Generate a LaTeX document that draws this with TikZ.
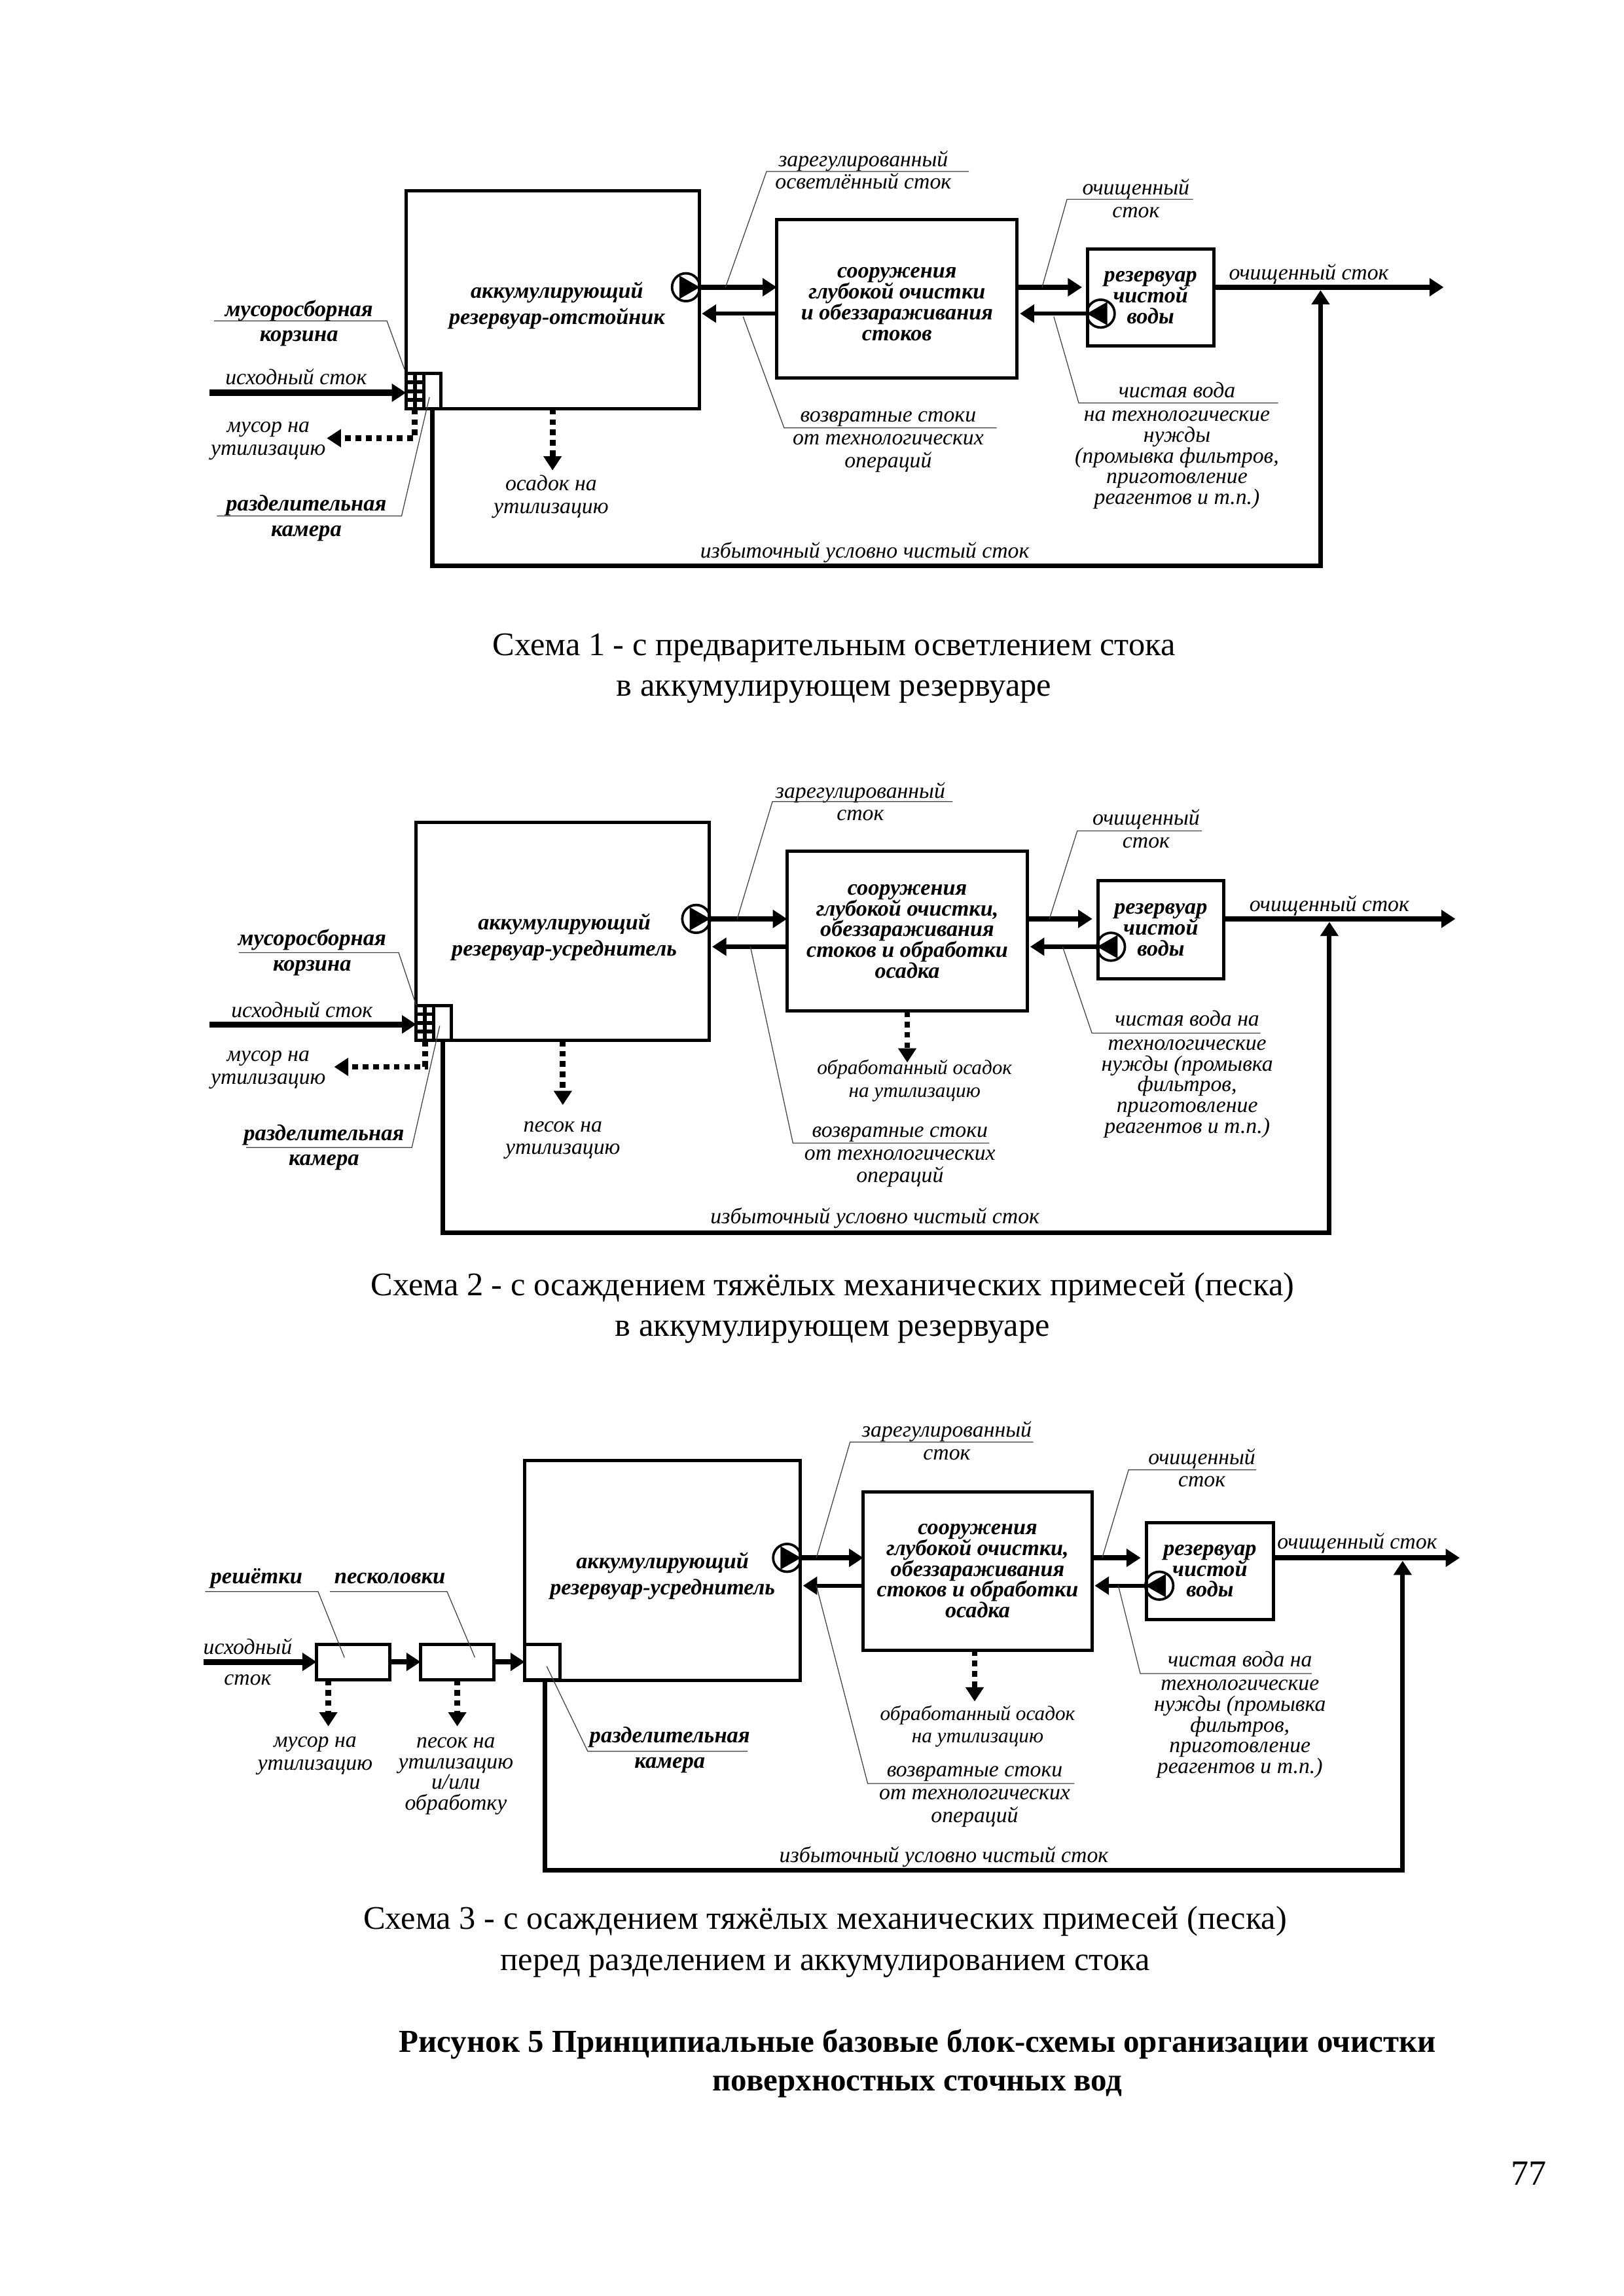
\documentclass[tikz,border=0pt]{standalone}
\usepackage{fontspec}
\setmainfont{Liberation Serif}
\usetikzlibrary{arrows.meta}
\setlength{\lineskiplimit}{-10pt}
\setlength{\normallineskiplimit}{-10pt}
\newcommand{\unitpx}{0.5373pt}
\newcommand{\pumpright}[1]{\fill (#1.east) -- ++(-14,-8) -- ++(0,16) -- cycle;}
\newcommand{\pumpleft}[1]{\fill (#1.west) -- ++(14,-8) -- ++(0,16) -- cycle;}
\newcommand{\grate}[1]{\draw[line width=1.4pt,shift={(#1.center)}] (0,-12)--(0,12) (-6,-6)--(6,-6) (-6,0)--(6,0) (-6,6)--(6,6);}
\tikzset{
sized/.style 2 args={minimum width=#1*\unitpx,minimum height=#2*\unitpx},
box/.style={draw,line width=1.2pt,inner sep=0pt,outer sep=0pt,align=center,font=\fontsize{8.2}{7.6}\selectfont\bfseries\itshape},
boxtext/.style={inner sep=0pt,align=center,font=\fontsize{8.2}{7.6}\selectfont\bfseries\itshape},
pumpnode/.style={draw,circle,line width=0.9pt,inner sep=0pt,outer sep=0pt,minimum size=19*\unitpx},
head/.style={-{Triangle[length=5.2pt,width=6.4pt]}},
feed/.style={head,line width=2.2pt},
flow/.style={head,line width=2pt},
back/.style={head,line width=1.5pt,shorten >=1pt},
bypass/.style={head,line width=1.7pt},
waste/.style={head,line width=2.1pt,dash pattern=on 2.1pt off 1.7pt},
leader/.style={line width=0.3pt,black!75},
note/.style={inner sep=0pt,align=center,font=\fontsize{8.1}{8.3}\selectfont\itshape},
tight/.style={inner sep=0pt,align=center,font=\fontsize{8.1}{7.6}\selectfont\itshape},
small/.style={inner sep=0pt,align=center,font=\fontsize{7.5}{8.3}\selectfont\itshape},
unitname/.style={inner sep=0pt,align=center,font=\fontsize{8.3}{9.3}\selectfont\bfseries\itshape},
caption/.style={inner sep=0pt,align=center,font=\fontsize{12.1}{15}\selectfont},
}
\begin{document}
\begin{tikzpicture}[x=\unitpx,y=-\unitpx]
\useasboundingbox (0,0) rectangle (1108,1566.7);
\fill[white] (0,0) rectangle (1108,1566.7);
\node[box,sized={200}{149}] (tankA) at (377,204.5) {};
\node[boxtext] (tanktextA) at (380,208.5) {аккумулирующий\\[2pt]резервуар-отстойник};
\node[box,sized={164}{108}] (plantA) at (612,204) {};
\node[boxtext] (planttextA) at (612,207.5) {сооружения\\глубокой очистки\\и обеззараживания\\стоков};
\node[box,sized={86}{66}] (cleanA) at (785,203) {резервуар\\чистой\\воды};
\node[box,sized={12}{24}] (basketA) at (283,267) {};
\node[box,sized={12}{24}] (chamberA) at (295,267) {};
\grate{basketA}
\node[pumpnode] (pumpA) at (468,196) {};
\pumpright{pumpA}
\node[pumpnode] (pumpB) at (751,214) {};
\pumpleft{pumpB}
\coordinate (startA) at (143,268);
\coordinate (backA) at (530,214);
\coordinate (passA) at (694,196);
\coordinate (outA) at (985,196);
\coordinate (mergeA) at (901,198);
\coordinate (trashA) at (223,299);
\coordinate (sludgeA) at (377,321);
\draw[feed] (startA) -- (startA -| basketA.west);
\draw[flow] (pumpA.east) -- (pumpA.east -| plantA.west);
\draw[back] (backA) -- (backA -| tankA.east);
\draw[flow,shorten >=2pt] (passA) -- (passA -| cleanA.west);
\draw[back] (pumpB.west) -- (pumpB.west -| plantA.east);
\draw[flow] (passA -| cleanA.east) -- (outA);
\draw[bypass] (chamberA.south) -- ++(0,107) -| (mergeA);
\draw[waste] (basketA.south) |- (trashA);
\draw[waste] (sludgeA |- tankA.south) -- (sludgeA);
\node[unitname] (binA) at (204,220.5) {мусоросборная\\корзина};
\node[unitname] (splitA) at (209,353.5) {разделительная\\камера};
\node[note] (inA) at (202,257) {исходный сток};
\node[note] (trashtextA) at (183,301) {мусор на\\утилизацию};
\node[note] (sludgetextA) at (376,339) {осадок на\\утилизацию};
\node[note] (settledA) at (589,116) {зарегулированный\\осветлённый сток};
\node[note] (cleanedA) at (775,135.5) {очищенный\\сток};
\node[note] (cleanoutA) at (893,187) {очищенный сток};
\node[note] (returnA) at (606,301.5) {возвратные стоки\\от технологических\\операций};
\node[tight] (needsA) at (803,304) {чистая вода\\[1.2pt]на технологические\\нужды\\(промывка фильтров,\\приготовление\\реагентов и т.п.)};
\node[note] (spareA) at (590,377) {избыточный условно чистый сток};
\coordinate (a1) at (146,219); \coordinate (a2) at (264,219); \coordinate (a3) at (276,252);
\draw[leader] (a1) -- (a2) -- (a3);
\coordinate (a4) at (148,352); \coordinate (a5) at (274,352); \coordinate (a6) at (293,271);
\draw[leader] (a4) -- (a5) -- (a6);
\coordinate (a7) at (495,196); \coordinate (a8) at (523,117); \coordinate (a9) at (661,117);
\draw[leader] (a7) -- (a8) -- (a9);
\coordinate (a10) at (507,216); \coordinate (a11) at (535,292); \coordinate (a12) at (680,292);
\draw[leader] (a10) -- (a11) -- (a12);
\coordinate (a13) at (711,196); \coordinate (a14) at (728,136); \coordinate (a15) at (814,136);
\draw[leader] (a13) -- (a14) -- (a15);
\coordinate (a16) at (719,216); \coordinate (a17) at (736,275); \coordinate (a18) at (872,275);
\draw[leader] (a16) -- (a17) -- (a18);
\node[caption] (capA) at (569,456) {Схема 1 - с предварительным осветлением стока\\в аккумулирующем резервуаре};
\node[box,sized={200}{149}] (tankB) at (384,635.5) {};
\node[boxtext] (tanktextB) at (385,639.5) {аккумулирующий\\[2pt]резервуар-усреднитель};
\node[box,sized={164}{109}] (plantB) at (619,635.5) {сооружения\\глубокой очистки,\\обеззараживания\\стоков и обработки\\осадка};
\node[box,sized={86}{67}] (cleanB) at (792,634.5) {резервуар\\чистой\\воды};
\node[box,sized={12}{24}] (basketB) at (290,698) {};
\node[box,sized={12}{24}] (chamberB) at (302,698) {};
\grate{basketB}
\node[pumpnode] (pumpC) at (475,627) {};
\pumpright{pumpC}
\node[pumpnode] (pumpD) at (758,646) {};
\pumpleft{pumpD}
\coordinate (startB) at (143,699);
\coordinate (backB) at (537,646);
\coordinate (passB) at (701,627);
\coordinate (outB) at (993,627);
\coordinate (mergeB) at (907,629);
\coordinate (trashB) at (228,728);
\coordinate (sandB) at (384,754);
\coordinate (sludgeB) at (619,725);
\draw[feed] (startB) -- (startB -| basketB.west);
\draw[flow] (pumpC.east) -- (pumpC.east -| plantB.west);
\draw[back] (backB) -- (backB -| tankB.east);
\draw[flow,shorten >=2pt] (passB) -- (passB -| cleanB.west);
\draw[back] (pumpD.west) -- (pumpD.west -| plantB.east);
\draw[flow] (passB -| cleanB.east) -- (outB);
\draw[bypass] (chamberB.south) -- ++(0,131) -| (mergeB);
\draw[waste] (basketB.south) |- (trashB);
\draw[waste] (sandB |- tankB.south) -- (sandB);
\draw[waste] (sludgeB |- plantB.south) -- (sludgeB);
\node[unitname] (binB) at (213,650) {мусоросборная\\корзина};
\node[unitname] (splitB) at (221,783) {разделительная\\камера};
\node[note] (inB) at (206,689) {исходный сток};
\node[note] (trashtextB) at (183,730) {мусор на\\утилизацию};
\node[note] (sandtextB) at (384,778) {песок на\\утилизацию};
\node[note] (settledB) at (587,547) {зарегулированный\\сток};
\node[note] (cleanedB) at (782,565.5) {очищенный\\сток};
\node[note] (cleanoutB) at (907,618) {очищенный сток};
\node[small] (sludgetextB) at (624,737.5) {обработанный осадок\\на утилизацию};
\node[note] (returnB) at (614,789.5) {возвратные стоки\\от технологических\\операций};
\node[tight] (needsB) at (810,733) {чистая вода на\\[1.2pt]технологические\\нужды (промывка\\фильтров,\\приготовление\\реагентов и т.п.)};
\node[note] (spareB) at (597,831) {избыточный условно чистый сток};
\coordinate (b1) at (163,650); \coordinate (b2) at (272,650); \coordinate (b3) at (284,686);
\draw[leader] (b1) -- (b2) -- (b3);
\coordinate (b4) at (168,783); \coordinate (b5) at (281,783); \coordinate (b6) at (300,700);
\draw[leader] (b4) -- (b5) -- (b6);
\coordinate (b7) at (503,627); \coordinate (b8) at (527,547); \coordinate (b9) at (650,547);
\draw[leader] (b7) -- (b8) -- (b9);
\coordinate (b10) at (512,646); \coordinate (b11) at (541,780); \coordinate (b12) at (675,780);
\draw[leader] (b10) -- (b11) -- (b12);
\coordinate (b13) at (716,627); \coordinate (b14) at (735,567); \coordinate (b15) at (820,567);
\draw[leader] (b13) -- (b14) -- (b15);
\coordinate (b16) at (725,646); \coordinate (b17) at (745,705); \coordinate (b18) at (860,705);
\draw[leader] (b16) -- (b17) -- (b18);
\node[caption] (capB) at (568,892.5) {Схема 2 - с осаждением тяжёлых механических примесей (песка)\\в аккумулирующем резервуаре};
\node[box,sized={188}{150}] (tankC) at (452,1071.5) {};
\node[boxtext] (tanktextC) at (452,1075.5) {аккумулирующий\\[2pt]резервуар-усреднитель};
\node[box,sized={156}{108}] (plantC) at (667,1072) {сооружения\\глубокой очистки,\\обеззараживания\\стоков и обработки\\осадка};
\node[box,sized={87}{66}] (cleanC) at (825.5,1072) {резервуар\\чистой\\воды};
\node[box,sized={50}{24}] (gridC) at (241,1134) {};
\node[box,sized={50}{24}] (trapC) at (312,1134) {};
\node[box,sized={24}{24}] (chamberC) at (370,1134) {};
\node[pumpnode] (pumpE) at (537,1063) {};
\pumpright{pumpE}
\node[pumpnode] (pumpF) at (791,1082) {};
\pumpleft{pumpF}
\coordinate (startC) at (139,1134);
\coordinate (backC) at (589,1082);
\coordinate (passC) at (745,1063);
\coordinate (outC) at (996,1063);
\coordinate (mergeC) at (957,1065);
\coordinate (trashC) at (224,1178);
\coordinate (sandC) at (312,1178);
\coordinate (sludgeC) at (665,1161);
\draw[feed] (startC) -- (gridC.west);
\draw[flow] (gridC.east) -- (trapC.west);
\draw[flow] (trapC.east) -- (chamberC.west);
\draw[flow] (pumpE.east) -- (pumpE.east -| plantC.west);
\draw[back] (backC) -- (backC -| tankC.east);
\draw[flow,shorten >=2pt] (passC) -- (passC -| cleanC.west);
\draw[back] (pumpF.west) -- (pumpF.west -| plantC.east);
\draw[flow] (passC -| cleanC.east) -- (outC);
\draw[bypass] (chamberC.south) ++(2,0) -- ++(0,130) -| (mergeC);
\draw[waste] (trashC |- gridC.south) -- (trashC);
\draw[waste] (sandC |- trapC.south) -- (sandC);
\draw[waste] (sludgeC |- plantC.south) -- (sludgeC);
\node[unitname] (gridtextC) at (175,1077) {решётки};
\node[unitname] (traptextC) at (266,1077) {песколовки};
\node[unitname] (splitC) at (457,1194) {разделительная\\камера};
\node[note] (inC) at (169,1134) {исходный\\[3pt]сток};
\node[note] (trashtextC) at (215,1198) {мусор на\\утилизацию};
\node[tight] (sandtextC) at (311,1212) {песок на\\утилизацию\\и/или\\обработку};
\node[note] (settledC) at (646,983) {зарегулированный\\сток};
\node[note] (cleanedC) at (820,1001.5) {очищенный\\сток};
\node[note] (cleanoutC) at (926,1053) {очищенный сток};
\node[small] (sludgetextC) at (667,1178) {обработанный осадок\\на утилизацию};
\node[note] (returnC) at (665,1226) {возвратные стоки\\от технологических\\операций};
\node[tight] (needsC) at (846,1170) {чистая вода на\\[1.2pt]технологические\\нужды (промывка\\фильтров,\\приготовление\\реагентов и т.п.)};
\node[note] (spareC) at (644,1267) {избыточный условно чистый сток};
\coordinate (c1) at (140,1086); \coordinate (c2) at (217,1086); \coordinate (c3) at (235,1131);
\draw[leader] (c1) -- (c2) -- (c3);
\coordinate (c4) at (225,1086); \coordinate (c5) at (305,1086); \coordinate (c6) at (324,1131);
\draw[leader] (c4) -- (c5) -- (c6);
\coordinate (c7) at (373,1137); \coordinate (c8) at (401,1195); \coordinate (c9) at (510,1195);
\draw[leader] (c7) -- (c8) -- (c9);
\coordinate (c10) at (557,1063); \coordinate (c11) at (580,984); \coordinate (c12) at (705,984);
\draw[leader] (c10) -- (c11) -- (c12);
\coordinate (c13) at (557,1082); \coordinate (c14) at (592,1217); \coordinate (c15) at (733,1217);
\draw[leader] (c13) -- (c14) -- (c15);
\coordinate (c16) at (752,1063); \coordinate (c17) at (770,1003); \coordinate (c18) at (857,1003);
\draw[leader] (c16) -- (c17) -- (c18);
\coordinate (c19) at (763,1082); \coordinate (c20) at (778,1142); \coordinate (c21) at (895,1142);
\draw[leader] (c19) -- (c20) -- (c21);
\node[caption] (capC) at (563,1325) {Схема 3 - с осаждением тяжёлых механических примесей (песка)\\перед разделением и аккумулированием стока};
\node[caption,font=\fontsize{11.75}{14}\selectfont\bfseries] (figure) at (626,1408) {Рисунок 5 Принципиальные базовые блок-схемы организации очистки\\поверхностных сточных вод};
\node[caption,font=\fontsize{13}{15}\selectfont] (pageno) at (1043,1483) {77};
\end{tikzpicture}
\end{document}
